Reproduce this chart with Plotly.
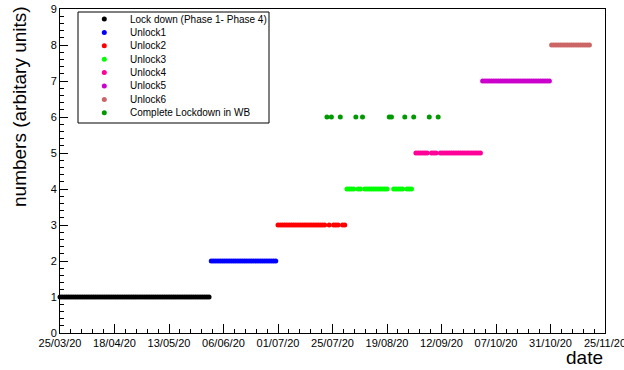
import pandas as pd
import plotly.graph_objects as go

# ---------------- data ----------------
phase_names = ["Lock down (Phase 1- Phase 4)", "Unlock1", "Unlock2", "Unlock3",
               "Unlock4", "Unlock5", "Unlock6"]
phase_start = ["2020-03-25", "2020-06-01", "2020-07-01", "2020-08-01",
               "2020-09-01", "2020-10-01", "2020-11-01"]
phase_end = ["2020-05-31", "2020-06-30", "2020-07-31", "2020-08-31",
             "2020-09-30", "2020-10-31", "2020-11-18"]
phase_level = [1, 2, 3, 4, 5, 7, 8]
phase_colors = ["#000000", "#0000ff", "#ff0000", "#00ff00",
                "#ff0099", "#cc00cc", "#cc6666"]

wb_name = "Complete Lockdown in WB"
wb_days = ["2020-07-23", "2020-07-25", "2020-07-29", "2020-08-05", "2020-08-08",
           "2020-08-20", "2020-08-21", "2020-08-27", "2020-08-31",
           "2020-09-07", "2020-09-11"]
wb_level = 6
wb_color = "#009900"

x_tick_labels = ["25/03/20", "18/04/20", "13/05/20", "06/06/20", "01/07/20", "25/07/20",
                 "19/08/20", "12/09/20", "07/10/20", "31/10/20", "25/11/20"]
y_ticks = [0, 1, 2, 3, 4, 5, 6, 7, 8, 9]

# ---------------- figure ----------------
FONT = "Liberation Sans, Arial, Helvetica, sans-serif"
W, H = 624, 370
L, R, T, B = 60, 19, 9, 37
PW, PH = W - L - R, H - T - B

fig = go.Figure()
wb_set = set(pd.to_datetime(wb_days))
for name, s, e, lvl, col in zip(phase_names, phase_start, phase_end, phase_level, phase_colors):
    days = [d for d in pd.date_range(s, e, freq="D") if d not in wb_set]
    fig.add_trace(go.Scatter(
        x=days, y=[lvl] * len(days), mode="markers", name=name,
        marker=dict(color=col, size=5, line=dict(width=0)),
        cliponaxis=False, showlegend=False))
wbd = pd.to_datetime(wb_days)
fig.add_trace(go.Scatter(
    x=wbd, y=[wb_level] * len(wbd), mode="markers", name=wb_name,
    marker=dict(color=wb_color, size=5, line=dict(width=0)),
    cliponaxis=False, showlegend=False))

day_ms = 86400000
tick0 = pd.Timestamp("2020-03-25")
tickvals = [tick0 + pd.Timedelta(days=24.5 * i) for i in range(len(x_tick_labels))]

fig.update_xaxes(
    type="date", range=["2020-03-25", "2020-11-25"],
    tickvals=tickvals, ticktext=x_tick_labels,
    ticks="inside", ticklen=9, tickwidth=1, tickcolor="black",
    showline=True, linecolor="black", linewidth=1, mirror=True,
    showgrid=False, zeroline=False, ticklabeloverflow="allow", automargin=False,
    tickfont=dict(family=FONT, size=11, color="black"),
    minor=dict(ticks="inside", ticklen=4.5, tickcolor="black", tickwidth=1,
               tick0="2020-03-25", dtick=4.9 * day_ms, showgrid=False),
)
fig.update_yaxes(
    range=[0, 9], tickvals=y_ticks,
    ticks="inside", ticklen=8, tickwidth=1, tickcolor="black",
    showline=True, linecolor="black", linewidth=1, mirror=True,
    showgrid=False, zeroline=False, ticklabeloverflow="allow", automargin=False,
    tickfont=dict(family=FONT, size=11, color="black"),
    minor=dict(ticks="inside", ticklen=4, tickcolor="black", tickwidth=1,
               dtick=0.2, showgrid=False),
)

def px_x(p):
    return (p - L) / PW

def px_y(p):
    return (H - B - p) / PH

shapes = []
annotations = []
# legend box
shapes.append(dict(type="rect", xref="paper", yref="paper",
                   x0=px_x(78), x1=px_x(269), y0=px_y(123), y1=px_y(12),
                   line=dict(color="black", width=1), fillcolor="white", layer="above"))
leg_names = phase_names + [wb_name]
leg_colors = phase_colors + [wb_color]
for i, (nm, col) in enumerate(zip(leg_names, leg_colors)):
    yc = 19 + 13.4 * i
    shapes.append(dict(type="circle", xref="paper", yref="paper",
                       x0=px_x(104.3 - 2.5), x1=px_x(104.3 + 2.5),
                       y0=px_y(yc + 2.5), y1=px_y(yc - 2.5),
                       fillcolor=col, line=dict(width=0), layer="above"))
    annotations.append(dict(xref="paper", yref="paper", x=px_x(128), y=px_y(yc),
                            xanchor="left", yanchor="middle", text=nm, showarrow=False,
                            font=dict(family=FONT, size=10, color="black")))

annotations.append(dict(xref="paper", yref="paper", x=px_x(19), y=px_y(107),
                        xanchor="center", yanchor="middle", textangle=-90,
                        text="numbers (arbitary units)", showarrow=False,
                        font=dict(family=FONT, size=19, color="black")))
annotations.append(dict(xref="paper", yref="paper", x=1.0, y=px_y(358),
                        xanchor="right", yanchor="middle",
                        text="date", showarrow=False,
                        font=dict(family=FONT, size=19, color="black")))

fig.update_layout(
    width=W, height=H,
    margin=dict(l=L, r=R, t=T, b=B, pad=0, autoexpand=False),
    paper_bgcolor="white", plot_bgcolor="white",
    showlegend=False, shapes=shapes, annotations=annotations,
    font=dict(family=FONT, color="black"),
)

fig.write_html("out.html")
